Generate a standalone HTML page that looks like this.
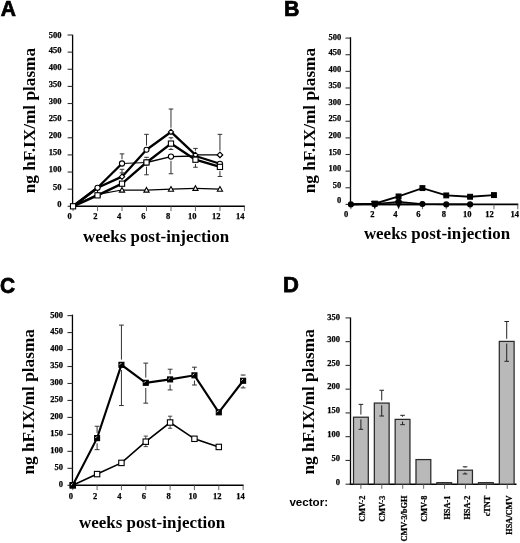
<!DOCTYPE html>
<html><head><meta charset="utf-8"><style>
html,body{margin:0;padding:0;background:#fff;}
body{width:520px;height:543px;overflow:hidden;}
svg{display:block;will-change:transform;}
text{fill:#000;}
.tl{stroke:#000;stroke-width:0.25px;}
</style></head><body>
<svg width="520" height="543" viewBox="0 0 520 543">
<rect width="520" height="543" fill="#fff"/>
<text transform="translate(0.7 16.3) scale(0.955 1)" font-size="22" style='font-family:"Liberation Sans",sans-serif;font-weight:bold;stroke:#000;stroke-width:0.75px'>A</text>
<text transform="translate(284.1 16.2) scale(0.97 1)" font-size="22" style='font-family:"Liberation Sans",sans-serif;font-weight:bold;stroke:#000;stroke-width:0.75px'>B</text>
<text transform="translate(-0.1 292.9) scale(0.95 1)" font-size="22" style='font-family:"Liberation Sans",sans-serif;font-weight:bold;stroke:#000;stroke-width:0.75px'>C</text>
<text transform="translate(283.1 292.1) scale(1.0 1)" font-size="22" style='font-family:"Liberation Sans",sans-serif;font-weight:bold;stroke:#000;stroke-width:0.75px'>D</text>
<line x1="72.6" y1="34.8" x2="72.6" y2="206.9" stroke="#000" stroke-width="1.3" />
<line x1="72.46" y1="206.3" x2="244.92" y2="206.3" stroke="#000" stroke-width="1.6" />
<line x1="67.6" y1="206.3" x2="72.6" y2="206.3" stroke="#333" stroke-width="1.1" />
<text x="61.6" y="206.7" font-size="8.5" text-anchor="end" style='font-family:"Liberation Serif",serif;font-weight:bold' class="tl">0</text>
<line x1="67.6" y1="189.17" x2="72.6" y2="189.17" stroke="#333" stroke-width="1.1" />
<text x="61.6" y="189.57" font-size="8.5" text-anchor="end" style='font-family:"Liberation Serif",serif;font-weight:bold' class="tl">50</text>
<line x1="67.6" y1="172.04" x2="72.6" y2="172.04" stroke="#333" stroke-width="1.1" />
<text x="61.6" y="172.44" font-size="8.5" text-anchor="end" style='font-family:"Liberation Serif",serif;font-weight:bold' class="tl">100</text>
<line x1="67.6" y1="154.91" x2="72.6" y2="154.91" stroke="#333" stroke-width="1.1" />
<text x="61.6" y="155.31" font-size="8.5" text-anchor="end" style='font-family:"Liberation Serif",serif;font-weight:bold' class="tl">150</text>
<line x1="67.6" y1="137.78" x2="72.6" y2="137.78" stroke="#333" stroke-width="1.1" />
<text x="61.6" y="138.18" font-size="8.5" text-anchor="end" style='font-family:"Liberation Serif",serif;font-weight:bold' class="tl">200</text>
<line x1="67.6" y1="120.65" x2="72.6" y2="120.65" stroke="#333" stroke-width="1.1" />
<text x="61.6" y="121.05" font-size="8.5" text-anchor="end" style='font-family:"Liberation Serif",serif;font-weight:bold' class="tl">250</text>
<line x1="67.6" y1="103.52" x2="72.6" y2="103.52" stroke="#333" stroke-width="1.1" />
<text x="61.6" y="103.92" font-size="8.5" text-anchor="end" style='font-family:"Liberation Serif",serif;font-weight:bold' class="tl">300</text>
<line x1="67.6" y1="86.39" x2="72.6" y2="86.39" stroke="#333" stroke-width="1.1" />
<text x="61.6" y="86.79" font-size="8.5" text-anchor="end" style='font-family:"Liberation Serif",serif;font-weight:bold' class="tl">350</text>
<line x1="67.6" y1="69.26" x2="72.6" y2="69.26" stroke="#333" stroke-width="1.1" />
<text x="61.6" y="69.66" font-size="8.5" text-anchor="end" style='font-family:"Liberation Serif",serif;font-weight:bold' class="tl">400</text>
<line x1="67.6" y1="52.13" x2="72.6" y2="52.13" stroke="#333" stroke-width="1.1" />
<text x="61.6" y="52.53" font-size="8.5" text-anchor="end" style='font-family:"Liberation Serif",serif;font-weight:bold' class="tl">450</text>
<line x1="67.6" y1="35" x2="72.6" y2="35" stroke="#333" stroke-width="1.1" />
<text x="61.6" y="37.8" font-size="8.5" text-anchor="end" style='font-family:"Liberation Serif",serif;font-weight:bold' class="tl">500</text>
<line x1="73.06" y1="206.3" x2="73.06" y2="211.1" stroke="#555" stroke-width="0.9" />
<text x="71.7" y="218.9" font-size="8.5" text-anchor="end" style='font-family:"Liberation Serif",serif;font-weight:bold' class="tl">0</text>
<line x1="97.54" y1="206.3" x2="97.54" y2="211.1" stroke="#555" stroke-width="0.9" />
<text x="97.6" y="218.9" font-size="8.5" text-anchor="end" style='font-family:"Liberation Serif",serif;font-weight:bold' class="tl">2</text>
<line x1="122.02" y1="206.3" x2="122.02" y2="211.1" stroke="#555" stroke-width="0.9" />
<text x="121.2" y="218.9" font-size="8.5" text-anchor="end" style='font-family:"Liberation Serif",serif;font-weight:bold' class="tl">4</text>
<line x1="146.5" y1="206.3" x2="146.5" y2="211.1" stroke="#555" stroke-width="0.9" />
<text x="145.6" y="218.9" font-size="8.5" text-anchor="end" style='font-family:"Liberation Serif",serif;font-weight:bold' class="tl">6</text>
<line x1="170.98" y1="206.3" x2="170.98" y2="211.1" stroke="#555" stroke-width="0.9" />
<text x="170.2" y="218.9" font-size="8.5" text-anchor="end" style='font-family:"Liberation Serif",serif;font-weight:bold' class="tl">8</text>
<line x1="195.46" y1="206.3" x2="195.46" y2="211.1" stroke="#555" stroke-width="0.9" />
<text x="196.5" y="218.9" font-size="8.5" text-anchor="end" style='font-family:"Liberation Serif",serif;font-weight:bold' class="tl">10</text>
<line x1="219.94" y1="206.3" x2="219.94" y2="211.1" stroke="#555" stroke-width="0.9" />
<text x="220.6" y="218.9" font-size="8.5" text-anchor="end" style='font-family:"Liberation Serif",serif;font-weight:bold' class="tl">12</text>
<line x1="244.42" y1="206.3" x2="244.42" y2="211.1" stroke="#555" stroke-width="0.9" />
<text x="244.6" y="218.9" font-size="8.5" text-anchor="end" style='font-family:"Liberation Serif",serif;font-weight:bold' class="tl">14</text>
<text x="34.6" y="193.3" font-size="17.4" text-anchor="start" style='font-family:"Liberation Serif",serif;font-weight:bold' transform="rotate(-90 34.6 193.3)"  textLength="145.4" lengthAdjust="spacingAndGlyphs">ng hF.IX/ml plasma</text>
<text x="83" y="241.5" font-size="17" text-anchor="start" style='font-family:"Liberation Serif",serif;font-weight:bold'  textLength="146.2" lengthAdjust="spacingAndGlyphs">weeks post-injection</text>
<line x1="73.06" y1="206.3" x2="97.54" y2="194.31" stroke="#000" stroke-width="1.2" stroke-linecap="round"/>
<line x1="97.54" y1="194.31" x2="122.02" y2="190.03" stroke="#000" stroke-width="1.2" stroke-linecap="round"/>
<line x1="122.02" y1="190.03" x2="146.5" y2="190.03" stroke="#000" stroke-width="1.2" stroke-linecap="round"/>
<line x1="146.5" y1="190.03" x2="170.98" y2="189.17" stroke="#000" stroke-width="1.2" stroke-linecap="round"/>
<line x1="170.98" y1="189.17" x2="195.46" y2="188.31" stroke="#000" stroke-width="1.2" stroke-linecap="round"/>
<line x1="195.46" y1="188.31" x2="219.94" y2="189.17" stroke="#000" stroke-width="1.2" stroke-linecap="round"/>
<line x1="73.06" y1="206.3" x2="97.54" y2="187.8" stroke="#000" stroke-width="2.4" stroke-linecap="round"/>
<line x1="97.54" y1="187.8" x2="122.02" y2="163.48" stroke="#000" stroke-width="2.3" stroke-linecap="round"/>
<line x1="122.02" y1="163.48" x2="146.5" y2="162.45" stroke="#000" stroke-width="1.1" stroke-linecap="round"/>
<line x1="146.5" y1="162.45" x2="170.98" y2="156.62" stroke="#000" stroke-width="1.4" stroke-linecap="round"/>
<line x1="170.98" y1="156.62" x2="195.46" y2="155.94" stroke="#000" stroke-width="1.4" stroke-linecap="round"/>
<line x1="195.46" y1="155.94" x2="219.94" y2="163.82" stroke="#000" stroke-width="2.2" stroke-linecap="round"/>
<line x1="73.06" y1="206.3" x2="97.54" y2="195.34" stroke="#000" stroke-width="2.4" stroke-linecap="round"/>
<line x1="97.54" y1="195.34" x2="122.02" y2="183.69" stroke="#000" stroke-width="2.4" stroke-linecap="round"/>
<line x1="122.02" y1="183.69" x2="146.5" y2="162.45" stroke="#000" stroke-width="2.4" stroke-linecap="round"/>
<line x1="146.5" y1="162.45" x2="170.98" y2="143.6" stroke="#000" stroke-width="2.4" stroke-linecap="round"/>
<line x1="170.98" y1="143.6" x2="195.46" y2="159.71" stroke="#000" stroke-width="2.4" stroke-linecap="round"/>
<line x1="195.46" y1="159.71" x2="219.94" y2="166.9" stroke="#000" stroke-width="2.4" stroke-linecap="round"/>
<line x1="73.06" y1="206.3" x2="97.54" y2="187.8" stroke="#000" stroke-width="2.4" stroke-linecap="round"/>
<line x1="97.54" y1="187.8" x2="122.02" y2="176.67" stroke="#000" stroke-width="2.3" stroke-linecap="round"/>
<line x1="122.02" y1="176.67" x2="146.5" y2="149.77" stroke="#000" stroke-width="2.3" stroke-linecap="round"/>
<line x1="146.5" y1="149.77" x2="170.98" y2="131.96" stroke="#000" stroke-width="2.3" stroke-linecap="round"/>
<line x1="170.98" y1="131.96" x2="195.46" y2="154.91" stroke="#000" stroke-width="2.3" stroke-linecap="round"/>
<line x1="195.46" y1="154.91" x2="219.94" y2="154.91" stroke="#000" stroke-width="1.3" stroke-linecap="round"/>
<line x1="122.02" y1="159.28" x2="122.02" y2="153.88" stroke="#333" stroke-width="1.0" />
<line x1="119.72" y1="153.88" x2="124.32" y2="153.88" stroke="#333" stroke-width="1.0" />
<line x1="170.98" y1="160.82" x2="170.98" y2="173.75" stroke="#333" stroke-width="1.0" />
<line x1="168.68" y1="173.75" x2="173.28" y2="173.75" stroke="#333" stroke-width="1.0" />
<line x1="122.02" y1="172.47" x2="122.02" y2="169.3" stroke="#333" stroke-width="1.0" />
<line x1="119.72" y1="169.3" x2="124.32" y2="169.3" stroke="#333" stroke-width="1.0" />
<line x1="122.02" y1="179.49" x2="122.02" y2="172.86" stroke="#333" stroke-width="1.0" />
<line x1="119.72" y1="172.86" x2="124.32" y2="172.86" stroke="#333" stroke-width="1.0" />
<line x1="146.5" y1="145.57" x2="146.5" y2="134.35" stroke="#333" stroke-width="1.0" />
<line x1="144.2" y1="134.35" x2="148.8" y2="134.35" stroke="#333" stroke-width="1.0" />
<line x1="170.98" y1="127.76" x2="170.98" y2="109" stroke="#333" stroke-width="1.0" />
<line x1="168.68" y1="109" x2="173.28" y2="109" stroke="#333" stroke-width="1.0" />
<line x1="195.46" y1="150.71" x2="195.46" y2="148.4" stroke="#333" stroke-width="1.0" />
<line x1="193.16" y1="148.4" x2="197.76" y2="148.4" stroke="#333" stroke-width="1.0" />
<line x1="219.94" y1="150.71" x2="219.94" y2="134.35" stroke="#333" stroke-width="1.0" />
<line x1="217.64" y1="134.35" x2="222.24" y2="134.35" stroke="#333" stroke-width="1.0" />
<line x1="146.5" y1="158.25" x2="146.5" y2="157.31" stroke="#333" stroke-width="1.0" />
<line x1="144.2" y1="157.31" x2="148.8" y2="157.31" stroke="#333" stroke-width="1.0" />
<line x1="146.5" y1="166.65" x2="146.5" y2="174.78" stroke="#333" stroke-width="1.0" />
<line x1="144.2" y1="174.78" x2="148.8" y2="174.78" stroke="#333" stroke-width="1.0" />
<line x1="170.98" y1="147.8" x2="170.98" y2="149.43" stroke="#333" stroke-width="1.0" />
<line x1="168.68" y1="149.43" x2="173.28" y2="149.43" stroke="#333" stroke-width="1.0" />
<line x1="170.98" y1="139.4" x2="170.98" y2="137.78" stroke="#333" stroke-width="1.0" />
<line x1="168.68" y1="137.78" x2="173.28" y2="137.78" stroke="#333" stroke-width="1.0" />
<line x1="195.46" y1="163.91" x2="195.46" y2="167.24" stroke="#333" stroke-width="1.0" />
<line x1="193.16" y1="167.24" x2="197.76" y2="167.24" stroke="#333" stroke-width="1.0" />
<line x1="219.94" y1="171.1" x2="219.94" y2="176.49" stroke="#333" stroke-width="1.0" />
<line x1="217.64" y1="176.49" x2="222.24" y2="176.49" stroke="#333" stroke-width="1.0" />
<path d="M97.54 191.71L100.14 196.39L94.94 196.39Z" fill="#fff" stroke="#000" stroke-width="1.1"/>
<path d="M122.02 187.43L124.62 192.11L119.42 192.11Z" fill="#fff" stroke="#000" stroke-width="1.1"/>
<path d="M146.5 187.43L149.1 192.11L143.9 192.11Z" fill="#fff" stroke="#000" stroke-width="1.1"/>
<path d="M170.98 186.57L173.58 191.25L168.38 191.25Z" fill="#fff" stroke="#000" stroke-width="1.1"/>
<path d="M195.46 185.71L198.06 190.39L192.86 190.39Z" fill="#fff" stroke="#000" stroke-width="1.1"/>
<path d="M219.94 186.57L222.54 191.25L217.34 191.25Z" fill="#fff" stroke="#000" stroke-width="1.1"/>
<path d="M122.02 174.07L124.62 176.67L122.02 179.27L119.42 176.67Z" fill="#fff" stroke="#000" stroke-width="1.1"/>
<circle cx="146.5" cy="149.77" r="2.5" fill="#fff" stroke="#000" stroke-width="1.1"/>
<path d="M170.98 129.36L173.58 131.96L170.98 134.56L168.38 131.96Z" fill="#fff" stroke="#000" stroke-width="1.1"/>
<path d="M195.46 152.31L198.06 154.91L195.46 157.51L192.86 154.91Z" fill="#fff" stroke="#000" stroke-width="1.1"/>
<path d="M219.94 152.31L222.54 154.91L219.94 157.51L217.34 154.91Z" fill="#fff" stroke="#000" stroke-width="1.1"/>
<circle cx="97.54" cy="187.8" r="2.6" fill="#fff" stroke="#000" stroke-width="1.1"/>
<circle cx="122.02" cy="163.48" r="2.6" fill="#fff" stroke="#000" stroke-width="1.1"/>
<circle cx="146.5" cy="162.45" r="2.6" fill="#fff" stroke="#000" stroke-width="1.1"/>
<circle cx="170.98" cy="156.62" r="2.6" fill="#fff" stroke="#000" stroke-width="1.1"/>
<circle cx="219.94" cy="163.82" r="2.6" fill="#fff" stroke="#000" stroke-width="1.1"/>
<rect x="70.46" y="203.7" width="5.2" height="5.2" fill="#fff" stroke="#000" stroke-width="1.1"/>
<rect x="94.94" y="192.74" width="5.2" height="5.2" fill="#fff" stroke="#000" stroke-width="1.1"/>
<rect x="119.42" y="181.09" width="5.2" height="5.2" fill="#fff" stroke="#000" stroke-width="1.1"/>
<rect x="143.9" y="159.85" width="5.2" height="5.2" fill="#fff" stroke="#000" stroke-width="1.1"/>
<rect x="168.38" y="141" width="5.2" height="5.2" fill="#fff" stroke="#000" stroke-width="1.1"/>
<rect x="192.86" y="157.11" width="5.2" height="5.2" fill="#fff" stroke="#000" stroke-width="1.1"/>
<rect x="217.34" y="164.3" width="5.2" height="5.2" fill="#fff" stroke="#000" stroke-width="1.1"/>
<path d="M219.94 152.21L222.64 154.91L219.94 157.61L217.24 154.91Z" fill="#fff" stroke="#000" stroke-width="1.1"/>
<line x1="350.5" y1="37.2" x2="350.5" y2="205" stroke="#000" stroke-width="1.3" />
<line x1="350.3" y1="204.4" x2="518.28" y2="204.4" stroke="#000" stroke-width="1.6" />
<line x1="345.5" y1="204.4" x2="350.5" y2="204.4" stroke="#333" stroke-width="1.1" />
<text x="341.3" y="203.3" font-size="8.5" text-anchor="end" style='font-family:"Liberation Serif",serif;font-weight:bold' class="tl">0</text>
<line x1="345.5" y1="187.77" x2="350.5" y2="187.77" stroke="#333" stroke-width="1.1" />
<text x="341.3" y="187.97" font-size="8.5" text-anchor="end" style='font-family:"Liberation Serif",serif;font-weight:bold' class="tl">50</text>
<line x1="345.5" y1="171.14" x2="350.5" y2="171.14" stroke="#333" stroke-width="1.1" />
<text x="341.3" y="171.34" font-size="8.5" text-anchor="end" style='font-family:"Liberation Serif",serif;font-weight:bold' class="tl">100</text>
<line x1="345.5" y1="154.51" x2="350.5" y2="154.51" stroke="#333" stroke-width="1.1" />
<text x="341.3" y="154.71" font-size="8.5" text-anchor="end" style='font-family:"Liberation Serif",serif;font-weight:bold' class="tl">150</text>
<line x1="345.5" y1="137.88" x2="350.5" y2="137.88" stroke="#333" stroke-width="1.1" />
<text x="341.3" y="138.08" font-size="8.5" text-anchor="end" style='font-family:"Liberation Serif",serif;font-weight:bold' class="tl">200</text>
<line x1="345.5" y1="121.25" x2="350.5" y2="121.25" stroke="#333" stroke-width="1.1" />
<text x="341.3" y="121.45" font-size="8.5" text-anchor="end" style='font-family:"Liberation Serif",serif;font-weight:bold' class="tl">250</text>
<line x1="345.5" y1="104.62" x2="350.5" y2="104.62" stroke="#333" stroke-width="1.1" />
<text x="341.3" y="104.82" font-size="8.5" text-anchor="end" style='font-family:"Liberation Serif",serif;font-weight:bold' class="tl">300</text>
<line x1="345.5" y1="87.99" x2="350.5" y2="87.99" stroke="#333" stroke-width="1.1" />
<text x="341.3" y="88.19" font-size="8.5" text-anchor="end" style='font-family:"Liberation Serif",serif;font-weight:bold' class="tl">350</text>
<line x1="345.5" y1="71.36" x2="350.5" y2="71.36" stroke="#333" stroke-width="1.1" />
<text x="341.3" y="71.56" font-size="8.5" text-anchor="end" style='font-family:"Liberation Serif",serif;font-weight:bold' class="tl">400</text>
<line x1="345.5" y1="54.73" x2="350.5" y2="54.73" stroke="#333" stroke-width="1.1" />
<text x="341.3" y="54.93" font-size="8.5" text-anchor="end" style='font-family:"Liberation Serif",serif;font-weight:bold' class="tl">450</text>
<line x1="345.5" y1="38.1" x2="350.5" y2="38.1" stroke="#333" stroke-width="1.1" />
<text x="341.3" y="40.4" font-size="8.5" text-anchor="end" style='font-family:"Liberation Serif",serif;font-weight:bold' class="tl">500</text>
<line x1="350.9" y1="204.4" x2="350.9" y2="209.2" stroke="#555" stroke-width="0.9" />
<text x="348.3" y="216.8" font-size="8.5" text-anchor="end" style='font-family:"Liberation Serif",serif;font-weight:bold' class="tl">0</text>
<line x1="374.74" y1="204.4" x2="374.74" y2="209.2" stroke="#555" stroke-width="0.9" />
<text x="374.6" y="216.8" font-size="8.5" text-anchor="end" style='font-family:"Liberation Serif",serif;font-weight:bold' class="tl">2</text>
<line x1="398.58" y1="204.4" x2="398.58" y2="209.2" stroke="#555" stroke-width="0.9" />
<text x="397.6" y="216.8" font-size="8.5" text-anchor="end" style='font-family:"Liberation Serif",serif;font-weight:bold' class="tl">4</text>
<line x1="422.42" y1="204.4" x2="422.42" y2="209.2" stroke="#555" stroke-width="0.9" />
<text x="420.5" y="216.8" font-size="8.5" text-anchor="end" style='font-family:"Liberation Serif",serif;font-weight:bold' class="tl">6</text>
<line x1="446.26" y1="204.4" x2="446.26" y2="209.2" stroke="#555" stroke-width="0.9" />
<text x="445.9" y="216.8" font-size="8.5" text-anchor="end" style='font-family:"Liberation Serif",serif;font-weight:bold' class="tl">8</text>
<line x1="470.1" y1="204.4" x2="470.1" y2="209.2" stroke="#555" stroke-width="0.9" />
<text x="471.5" y="216.8" font-size="8.5" text-anchor="end" style='font-family:"Liberation Serif",serif;font-weight:bold' class="tl">10</text>
<line x1="493.94" y1="204.4" x2="493.94" y2="209.2" stroke="#555" stroke-width="0.9" />
<text x="493.7" y="216.8" font-size="8.5" text-anchor="end" style='font-family:"Liberation Serif",serif;font-weight:bold' class="tl">12</text>
<line x1="517.78" y1="204.4" x2="517.78" y2="209.2" stroke="#555" stroke-width="0.9" />
<text x="519.1" y="216.8" font-size="8.5" text-anchor="end" style='font-family:"Liberation Serif",serif;font-weight:bold' class="tl">14</text>
<text x="315.2" y="193.3" font-size="17.4" text-anchor="start" style='font-family:"Liberation Serif",serif;font-weight:bold' transform="rotate(-90 315.2 193.3)"  textLength="145.4" lengthAdjust="spacingAndGlyphs">ng hF.IX/ml plasma</text>
<text x="363.9" y="238.6" font-size="17" text-anchor="start" style='font-family:"Liberation Serif",serif;font-weight:bold'  textLength="146.2" lengthAdjust="spacingAndGlyphs">weeks post-injection</text>
<polyline points="350.9,204.4 374.74,204.07 398.58,201.74 422.42,204.07 446.26,204.4 470.1,204.4" fill="none" stroke="#000" stroke-width="1.6" stroke-linejoin="miter" stroke-miterlimit="3"/>
<polyline points="350.9,204.4 374.74,204.4 398.58,204.4 422.42,204.4" fill="none" stroke="#000" stroke-width="1.8" stroke-linejoin="miter" stroke-miterlimit="3"/>
<polyline points="350.9,204.4 374.74,203.73 398.58,196.42 422.42,188.1 446.26,195.42 470.1,196.75 493.94,195.09" fill="none" stroke="#000" stroke-width="1.8" stroke-linejoin="miter" stroke-miterlimit="3"/>
<rect x="372.34" y="201.33" width="4.8" height="4.8" fill="#000" stroke="#000" stroke-width="1.1"/>
<rect x="396.18" y="194.02" width="4.8" height="4.8" fill="#000" stroke="#000" stroke-width="1.1"/>
<rect x="420.02" y="185.7" width="4.8" height="4.8" fill="#000" stroke="#000" stroke-width="1.1"/>
<rect x="443.86" y="193.02" width="4.8" height="4.8" fill="#000" stroke="#000" stroke-width="1.1"/>
<rect x="467.7" y="194.35" width="4.8" height="4.8" fill="#000" stroke="#000" stroke-width="1.1"/>
<rect x="491.54" y="192.69" width="4.8" height="4.8" fill="#000" stroke="#000" stroke-width="1.1"/>
<circle cx="350.9" cy="204.4" r="2.5" fill="#000" stroke="#000" stroke-width="1.1"/>
<circle cx="374.74" cy="204.07" r="2.5" fill="#000" stroke="#000" stroke-width="1.1"/>
<circle cx="398.58" cy="201.74" r="2.5" fill="#000" stroke="#000" stroke-width="1.1"/>
<circle cx="422.42" cy="204.07" r="2.5" fill="#000" stroke="#000" stroke-width="1.1"/>
<circle cx="446.26" cy="204.4" r="2.5" fill="#000" stroke="#000" stroke-width="1.1"/>
<circle cx="470.1" cy="204.4" r="2.5" fill="#000" stroke="#000" stroke-width="1.1"/>
<path d="M371.24 201.2L378.24 201.2L374.74 208.2Z" fill="#000" stroke="#000" stroke-width="0.6"/>
<path d="M395.08 201.2L402.08 201.2L398.58 208.2Z" fill="#000" stroke="#000" stroke-width="0.6"/>
<line x1="72.45" y1="314.6" x2="72.45" y2="485.9" stroke="#000" stroke-width="1.3" />
<line x1="72.15" y1="485.3" x2="243.63" y2="485.3" stroke="#000" stroke-width="1.6" />
<line x1="67.45" y1="485.3" x2="72.45" y2="485.3" stroke="#333" stroke-width="1.1" />
<text x="62.9" y="486.6" font-size="8.5" text-anchor="end" style='font-family:"Liberation Serif",serif;font-weight:bold' class="tl">0</text>
<line x1="67.45" y1="468.33" x2="72.45" y2="468.33" stroke="#333" stroke-width="1.1" />
<text x="62.9" y="469.63" font-size="8.5" text-anchor="end" style='font-family:"Liberation Serif",serif;font-weight:bold' class="tl">50</text>
<line x1="67.45" y1="451.36" x2="72.45" y2="451.36" stroke="#333" stroke-width="1.1" />
<text x="62.9" y="452.66" font-size="8.5" text-anchor="end" style='font-family:"Liberation Serif",serif;font-weight:bold' class="tl">100</text>
<line x1="67.45" y1="434.39" x2="72.45" y2="434.39" stroke="#333" stroke-width="1.1" />
<text x="62.9" y="435.69" font-size="8.5" text-anchor="end" style='font-family:"Liberation Serif",serif;font-weight:bold' class="tl">150</text>
<line x1="67.45" y1="417.42" x2="72.45" y2="417.42" stroke="#333" stroke-width="1.1" />
<text x="62.9" y="418.72" font-size="8.5" text-anchor="end" style='font-family:"Liberation Serif",serif;font-weight:bold' class="tl">200</text>
<line x1="67.45" y1="400.45" x2="72.45" y2="400.45" stroke="#333" stroke-width="1.1" />
<text x="62.9" y="401.75" font-size="8.5" text-anchor="end" style='font-family:"Liberation Serif",serif;font-weight:bold' class="tl">250</text>
<line x1="67.45" y1="383.48" x2="72.45" y2="383.48" stroke="#333" stroke-width="1.1" />
<text x="62.9" y="384.78" font-size="8.5" text-anchor="end" style='font-family:"Liberation Serif",serif;font-weight:bold' class="tl">300</text>
<line x1="67.45" y1="366.51" x2="72.45" y2="366.51" stroke="#333" stroke-width="1.1" />
<text x="62.9" y="367.81" font-size="8.5" text-anchor="end" style='font-family:"Liberation Serif",serif;font-weight:bold' class="tl">350</text>
<line x1="67.45" y1="349.54" x2="72.45" y2="349.54" stroke="#333" stroke-width="1.1" />
<text x="62.9" y="350.84" font-size="8.5" text-anchor="end" style='font-family:"Liberation Serif",serif;font-weight:bold' class="tl">400</text>
<line x1="67.45" y1="332.57" x2="72.45" y2="332.57" stroke="#333" stroke-width="1.1" />
<text x="62.9" y="333.87" font-size="8.5" text-anchor="end" style='font-family:"Liberation Serif",serif;font-weight:bold' class="tl">450</text>
<line x1="67.45" y1="315.6" x2="72.45" y2="315.6" stroke="#333" stroke-width="1.1" />
<text x="62.9" y="317.7" font-size="8.5" text-anchor="end" style='font-family:"Liberation Serif",serif;font-weight:bold' class="tl">500</text>
<line x1="72.75" y1="485.3" x2="72.75" y2="490.1" stroke="#555" stroke-width="0.9" />
<text x="73.1" y="499.2" font-size="8.5" text-anchor="end" style='font-family:"Liberation Serif",serif;font-weight:bold' class="tl">0</text>
<line x1="97.09" y1="485.3" x2="97.09" y2="490.1" stroke="#555" stroke-width="0.9" />
<text x="97.3" y="499.2" font-size="8.5" text-anchor="end" style='font-family:"Liberation Serif",serif;font-weight:bold' class="tl">2</text>
<line x1="121.43" y1="485.3" x2="121.43" y2="490.1" stroke="#555" stroke-width="0.9" />
<text x="121.5" y="499.2" font-size="8.5" text-anchor="end" style='font-family:"Liberation Serif",serif;font-weight:bold' class="tl">4</text>
<line x1="145.77" y1="485.3" x2="145.77" y2="490.1" stroke="#555" stroke-width="0.9" />
<text x="146.1" y="499.2" font-size="8.5" text-anchor="end" style='font-family:"Liberation Serif",serif;font-weight:bold' class="tl">6</text>
<line x1="170.11" y1="485.3" x2="170.11" y2="490.1" stroke="#555" stroke-width="0.9" />
<text x="170.7" y="499.2" font-size="8.5" text-anchor="end" style='font-family:"Liberation Serif",serif;font-weight:bold' class="tl">8</text>
<line x1="194.45" y1="485.3" x2="194.45" y2="490.1" stroke="#555" stroke-width="0.9" />
<text x="197.1" y="499.2" font-size="8.5" text-anchor="end" style='font-family:"Liberation Serif",serif;font-weight:bold' class="tl">10</text>
<line x1="218.79" y1="485.3" x2="218.79" y2="490.1" stroke="#555" stroke-width="0.9" />
<text x="221.4" y="499.2" font-size="8.5" text-anchor="end" style='font-family:"Liberation Serif",serif;font-weight:bold' class="tl">12</text>
<line x1="243.13" y1="485.3" x2="243.13" y2="490.1" stroke="#555" stroke-width="0.9" />
<text x="244.7" y="499.2" font-size="8.5" text-anchor="end" style='font-family:"Liberation Serif",serif;font-weight:bold' class="tl">14</text>
<text x="33.7" y="474.5" font-size="17.4" text-anchor="start" style='font-family:"Liberation Serif",serif;font-weight:bold' transform="rotate(-90 33.7 474.5)"  textLength="145.4" lengthAdjust="spacingAndGlyphs">ng hF.IX/ml plasma</text>
<text x="79" y="527.9" font-size="17" text-anchor="start" style='font-family:"Liberation Serif",serif;font-weight:bold'  textLength="146.2" lengthAdjust="spacingAndGlyphs">weeks post-injection</text>
<line x1="97.09" y1="432.92" x2="97.09" y2="426.24" stroke="#333" stroke-width="1.0" />
<line x1="94.69" y1="426.24" x2="99.49" y2="426.24" stroke="#333" stroke-width="1.0" />
<line x1="97.09" y1="443.32" x2="97.09" y2="449.66" stroke="#333" stroke-width="1.0" />
<line x1="94.69" y1="449.66" x2="99.49" y2="449.66" stroke="#333" stroke-width="1.0" />
<line x1="121.43" y1="359.61" x2="121.43" y2="325.1" stroke="#333" stroke-width="1.0" />
<line x1="119.03" y1="325.1" x2="123.83" y2="325.1" stroke="#333" stroke-width="1.0" />
<line x1="121.43" y1="370.01" x2="121.43" y2="405.54" stroke="#333" stroke-width="1.0" />
<line x1="119.03" y1="405.54" x2="123.83" y2="405.54" stroke="#333" stroke-width="1.0" />
<line x1="145.77" y1="377.6" x2="145.77" y2="363.12" stroke="#333" stroke-width="1.0" />
<line x1="143.37" y1="363.12" x2="148.17" y2="363.12" stroke="#333" stroke-width="1.0" />
<line x1="145.77" y1="388" x2="145.77" y2="403.17" stroke="#333" stroke-width="1.0" />
<line x1="143.37" y1="403.17" x2="148.17" y2="403.17" stroke="#333" stroke-width="1.0" />
<line x1="170.11" y1="374.21" x2="170.11" y2="369.23" stroke="#333" stroke-width="1.0" />
<line x1="167.71" y1="369.23" x2="172.51" y2="369.23" stroke="#333" stroke-width="1.0" />
<line x1="170.11" y1="384.61" x2="170.11" y2="389.93" stroke="#333" stroke-width="1.0" />
<line x1="167.71" y1="389.93" x2="172.51" y2="389.93" stroke="#333" stroke-width="1.0" />
<line x1="194.45" y1="370.13" x2="194.45" y2="367.19" stroke="#333" stroke-width="1.0" />
<line x1="192.05" y1="367.19" x2="196.85" y2="367.19" stroke="#333" stroke-width="1.0" />
<line x1="194.45" y1="380.53" x2="194.45" y2="385.01" stroke="#333" stroke-width="1.0" />
<line x1="192.05" y1="385.01" x2="196.85" y2="385.01" stroke="#333" stroke-width="1.0" />
<line x1="243.13" y1="375.56" x2="243.13" y2="375" stroke="#333" stroke-width="1.0" />
<line x1="240.73" y1="375" x2="245.53" y2="375" stroke="#333" stroke-width="1.0" />
<line x1="243.13" y1="385.96" x2="243.13" y2="387.89" stroke="#333" stroke-width="1.0" />
<line x1="240.73" y1="387.89" x2="245.53" y2="387.89" stroke="#333" stroke-width="1.0" />
<line x1="145.77" y1="441.69" x2="145.77" y2="436.09" stroke="#333" stroke-width="0.9" />
<line x1="143.67" y1="436.09" x2="147.87" y2="436.09" stroke="#333" stroke-width="0.9" />
<line x1="145.77" y1="441.69" x2="145.77" y2="446.61" stroke="#333" stroke-width="0.9" />
<line x1="143.67" y1="446.61" x2="147.87" y2="446.61" stroke="#333" stroke-width="0.9" />
<line x1="170.11" y1="422.51" x2="170.11" y2="416.2" stroke="#333" stroke-width="0.9" />
<line x1="168.01" y1="416.2" x2="172.21" y2="416.2" stroke="#333" stroke-width="0.9" />
<line x1="170.11" y1="422.51" x2="170.11" y2="428.28" stroke="#333" stroke-width="0.9" />
<line x1="168.01" y1="428.28" x2="172.21" y2="428.28" stroke="#333" stroke-width="0.9" />
<polyline points="72.75,485.3 97.09,474.1 121.43,462.9 145.77,441.69 170.11,422.51 194.45,438.8 218.79,446.95" fill="none" stroke="#000" stroke-width="1.6" stroke-linejoin="miter" stroke-miterlimit="3"/>
<polyline points="72.75,485.3 97.09,438.12 121.43,364.81 145.77,382.8 170.11,379.41 194.45,375.33 218.79,412.33 243.13,380.76" fill="none" stroke="#000" stroke-width="2.1" stroke-linejoin="miter" stroke-miterlimit="3"/>
<rect x="70.05" y="482.6" width="5.4" height="5.4" fill="#fff" stroke="#000" stroke-width="1.1"/>
<rect x="94.39" y="471.4" width="5.4" height="5.4" fill="#fff" stroke="#000" stroke-width="1.1"/>
<rect x="118.73" y="460.2" width="5.4" height="5.4" fill="#fff" stroke="#000" stroke-width="1.1"/>
<rect x="143.07" y="438.99" width="5.4" height="5.4" fill="#fff" stroke="#000" stroke-width="1.1"/>
<rect x="167.41" y="419.81" width="5.4" height="5.4" fill="#fff" stroke="#000" stroke-width="1.1"/>
<rect x="191.75" y="436.1" width="5.4" height="5.4" fill="#fff" stroke="#000" stroke-width="1.1"/>
<rect x="216.09" y="444.25" width="5.4" height="5.4" fill="#fff" stroke="#000" stroke-width="1.1"/>
<rect x="70.25" y="482.8" width="5" height="5" fill="#000" stroke="#000" stroke-width="1.1"/>
<line x1="70.95" y1="485.2" x2="72.55" y2="483.6" stroke="#fff" stroke-width="0.9"/>
<rect x="94.59" y="435.62" width="5" height="5" fill="#000" stroke="#000" stroke-width="1.1"/>
<line x1="95.29" y1="438.02" x2="96.89" y2="436.42" stroke="#fff" stroke-width="0.9"/>
<rect x="118.93" y="362.31" width="5" height="5" fill="#000" stroke="#000" stroke-width="1.1"/>
<line x1="119.63" y1="364.71" x2="121.23" y2="363.11" stroke="#fff" stroke-width="0.9"/>
<rect x="143.27" y="380.3" width="5" height="5" fill="#000" stroke="#000" stroke-width="1.1"/>
<line x1="143.97" y1="382.7" x2="145.57" y2="381.1" stroke="#fff" stroke-width="0.9"/>
<rect x="167.61" y="376.91" width="5" height="5" fill="#000" stroke="#000" stroke-width="1.1"/>
<line x1="168.31" y1="379.31" x2="169.91" y2="377.71" stroke="#fff" stroke-width="0.9"/>
<rect x="191.95" y="372.83" width="5" height="5" fill="#000" stroke="#000" stroke-width="1.1"/>
<line x1="192.65" y1="375.23" x2="194.25" y2="373.63" stroke="#fff" stroke-width="0.9"/>
<rect x="216.29" y="409.83" width="5" height="5" fill="#000" stroke="#000" stroke-width="1.1"/>
<line x1="216.99" y1="412.23" x2="218.59" y2="410.63" stroke="#fff" stroke-width="0.9"/>
<rect x="240.63" y="378.26" width="5" height="5" fill="#000" stroke="#000" stroke-width="1.1"/>
<line x1="241.33" y1="380.66" x2="242.93" y2="379.06" stroke="#fff" stroke-width="0.9"/>
<line x1="350.5" y1="317.5" x2="350.5" y2="484.8" stroke="#000" stroke-width="1.3" />
<line x1="349.6" y1="484.2" x2="516.5" y2="484.2" stroke="#000" stroke-width="1.6" />
<line x1="345.5" y1="484.2" x2="350.5" y2="484.2" stroke="#333" stroke-width="1.1" />
<text x="339.9" y="484.5" font-size="8.5" text-anchor="end" style='font-family:"Liberation Serif",serif;font-weight:bold' class="tl">0</text>
<line x1="345.5" y1="460.44" x2="350.5" y2="460.44" stroke="#333" stroke-width="1.1" />
<text x="339.9" y="460.74" font-size="8.5" text-anchor="end" style='font-family:"Liberation Serif",serif;font-weight:bold' class="tl">50</text>
<line x1="345.5" y1="436.68" x2="350.5" y2="436.68" stroke="#333" stroke-width="1.1" />
<text x="339.9" y="436.98" font-size="8.5" text-anchor="end" style='font-family:"Liberation Serif",serif;font-weight:bold' class="tl">100</text>
<line x1="345.5" y1="412.92" x2="350.5" y2="412.92" stroke="#333" stroke-width="1.1" />
<text x="339.9" y="413.22" font-size="8.5" text-anchor="end" style='font-family:"Liberation Serif",serif;font-weight:bold' class="tl">150</text>
<line x1="345.5" y1="389.16" x2="350.5" y2="389.16" stroke="#333" stroke-width="1.1" />
<text x="339.9" y="389.46" font-size="8.5" text-anchor="end" style='font-family:"Liberation Serif",serif;font-weight:bold' class="tl">200</text>
<line x1="345.5" y1="365.4" x2="350.5" y2="365.4" stroke="#333" stroke-width="1.1" />
<text x="339.9" y="365.7" font-size="8.5" text-anchor="end" style='font-family:"Liberation Serif",serif;font-weight:bold' class="tl">250</text>
<line x1="345.5" y1="341.64" x2="350.5" y2="341.64" stroke="#333" stroke-width="1.1" />
<text x="339.9" y="341.94" font-size="8.5" text-anchor="end" style='font-family:"Liberation Serif",serif;font-weight:bold' class="tl">300</text>
<line x1="345.5" y1="317.88" x2="350.5" y2="317.88" stroke="#333" stroke-width="1.1" />
<text x="339.9" y="320.38" font-size="8.5" text-anchor="end" style='font-family:"Liberation Serif",serif;font-weight:bold' class="tl">350</text>
<rect x="353.5" y="417.2" width="14.8" height="67" fill="#b9b9b9" stroke="#2a2a2a" stroke-width="1.25"/>
<line x1="360.9" y1="414.6" x2="360.9" y2="404.37" stroke="#222" stroke-width="1.0" />
<line x1="358.6" y1="404.37" x2="363.2" y2="404.37" stroke="#222" stroke-width="1.0" />
<line x1="360.9" y1="419.4" x2="360.9" y2="429.31" stroke="#222" stroke-width="1.0" />
<line x1="358.6" y1="429.31" x2="363.2" y2="429.31" stroke="#222" stroke-width="1.0" />
<line x1="360.9" y1="484.2" x2="360.9" y2="488.8" stroke="#555" stroke-width="0.9" />
<text x="365.1" y="495.6" font-size="8.3" text-anchor="end" style='font-family:"Liberation Serif",serif;font-weight:bold' transform="rotate(-90 365.1 495.6)" class="tl">CMV-2</text>
<rect x="374.33" y="403.08" width="14.8" height="81.12" fill="#b9b9b9" stroke="#2a2a2a" stroke-width="1.25"/>
<line x1="381.73" y1="400.48" x2="381.73" y2="390.25" stroke="#222" stroke-width="1.0" />
<line x1="379.43" y1="390.25" x2="384.03" y2="390.25" stroke="#222" stroke-width="1.0" />
<line x1="381.73" y1="405.28" x2="381.73" y2="416.01" stroke="#222" stroke-width="1.0" />
<line x1="379.43" y1="416.01" x2="384.03" y2="416.01" stroke="#222" stroke-width="1.0" />
<line x1="381.81" y1="484.2" x2="381.81" y2="488.8" stroke="#555" stroke-width="0.9" />
<text x="385.3" y="495.6" font-size="8.3" text-anchor="end" style='font-family:"Liberation Serif",serif;font-weight:bold' transform="rotate(-90 385.3 495.6)" class="tl">CMV-3</text>
<rect x="395.16" y="419.38" width="14.8" height="64.82" fill="#b9b9b9" stroke="#2a2a2a" stroke-width="1.25"/>
<line x1="402.56" y1="416.78" x2="402.56" y2="415.3" stroke="#222" stroke-width="1.0" />
<line x1="400.26" y1="415.3" x2="404.86" y2="415.3" stroke="#222" stroke-width="1.0" />
<line x1="402.56" y1="421.58" x2="402.56" y2="424.66" stroke="#222" stroke-width="1.0" />
<line x1="400.26" y1="424.66" x2="404.86" y2="424.66" stroke="#222" stroke-width="1.0" />
<line x1="402.72" y1="484.2" x2="402.72" y2="488.8" stroke="#555" stroke-width="0.9" />
<text x="406.8" y="495.6" font-size="8.3" text-anchor="end" style='font-family:"Liberation Serif",serif;font-weight:bold' transform="rotate(-90 406.8 495.6)" class="tl">CMV-3/bGH</text>
<rect x="415.99" y="459.58" width="14.8" height="24.62" fill="#b9b9b9" stroke="#2a2a2a" stroke-width="1.25"/>
<line x1="423.63" y1="484.2" x2="423.63" y2="488.8" stroke="#555" stroke-width="0.9" />
<text x="426.8" y="495.6" font-size="8.3" text-anchor="end" style='font-family:"Liberation Serif",serif;font-weight:bold' transform="rotate(-90 426.8 495.6)" class="tl">CMV-8</text>
<rect x="436.82" y="482.68" width="14.8" height="1.52" fill="#b9b9b9" stroke="#2a2a2a" stroke-width="1.25"/>
<line x1="444.54" y1="484.2" x2="444.54" y2="488.8" stroke="#555" stroke-width="0.9" />
<text x="450" y="495.6" font-size="8.3" text-anchor="end" style='font-family:"Liberation Serif",serif;font-weight:bold' transform="rotate(-90 450 495.6)" class="tl">HSA-1</text>
<rect x="457.65" y="470.18" width="14.8" height="14.02" fill="#b9b9b9" stroke="#2a2a2a" stroke-width="1.25"/>
<line x1="465.05" y1="467.58" x2="465.05" y2="466.81" stroke="#222" stroke-width="1.0" />
<line x1="462.75" y1="466.81" x2="467.35" y2="466.81" stroke="#222" stroke-width="1.0" />
<line x1="465.05" y1="472.38" x2="465.05" y2="473.98" stroke="#222" stroke-width="1.0" />
<line x1="462.75" y1="473.98" x2="467.35" y2="473.98" stroke="#222" stroke-width="1.0" />
<line x1="465.45" y1="484.2" x2="465.45" y2="488.8" stroke="#555" stroke-width="0.9" />
<text x="470.2" y="495.6" font-size="8.3" text-anchor="end" style='font-family:"Liberation Serif",serif;font-weight:bold' transform="rotate(-90 470.2 495.6)" class="tl">HSA-2</text>
<rect x="478.48" y="482.68" width="14.8" height="1.52" fill="#b9b9b9" stroke="#2a2a2a" stroke-width="1.25"/>
<line x1="486.36" y1="484.2" x2="486.36" y2="488.8" stroke="#555" stroke-width="0.9" />
<text x="490.4" y="495.6" font-size="8.3" text-anchor="end" style='font-family:"Liberation Serif",serif;font-weight:bold' transform="rotate(-90 490.4 495.6)" class="tl">cTNT</text>
<rect x="499.31" y="341.4" width="14.8" height="142.8" fill="#b9b9b9" stroke="#2a2a2a" stroke-width="1.25"/>
<line x1="506.71" y1="338.8" x2="506.71" y2="321.49" stroke="#222" stroke-width="1.0" />
<line x1="504.41" y1="321.49" x2="509.01" y2="321.49" stroke="#222" stroke-width="1.0" />
<line x1="506.71" y1="343.6" x2="506.71" y2="361.31" stroke="#222" stroke-width="1.0" />
<line x1="504.41" y1="361.31" x2="509.01" y2="361.31" stroke="#222" stroke-width="1.0" />
<line x1="507.27" y1="484.2" x2="507.27" y2="488.8" stroke="#555" stroke-width="0.9" />
<text x="512" y="495.6" font-size="8.3" text-anchor="end" style='font-family:"Liberation Serif",serif;font-weight:bold' transform="rotate(-90 512 495.6)" class="tl">HSA/CMV</text>
<text x="313.9" y="474.6" font-size="17.4" text-anchor="start" style='font-family:"Liberation Serif",serif;font-weight:bold' transform="rotate(-90 313.9 474.6)"  textLength="145.4" lengthAdjust="spacingAndGlyphs">ng hF.IX/ml plasma</text>
<text x="289.4" y="505.8" font-size="11.6" text-anchor="start" style='font-family:"Liberation Sans",sans-serif;font-weight:bold' >vector:</text>
</svg>
</body></html>
